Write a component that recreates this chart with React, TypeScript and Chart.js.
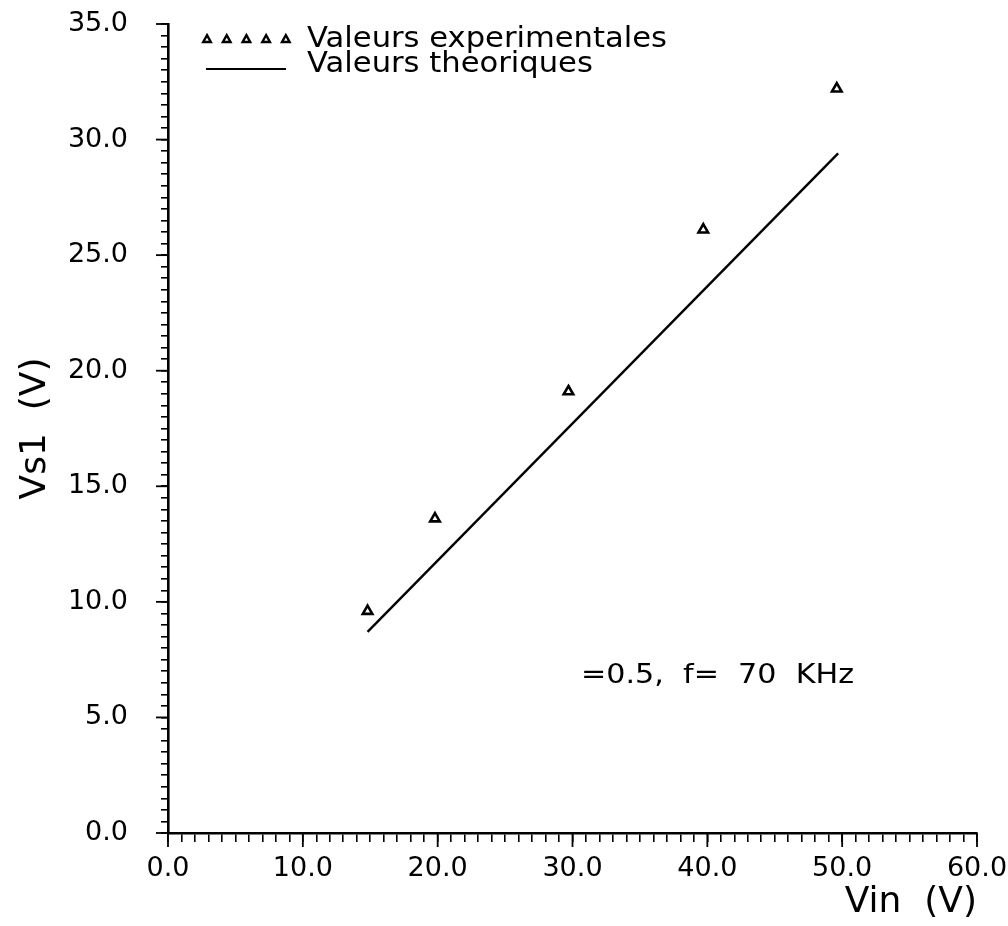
import React, { useEffect, useRef } from "react";
import { Chart, registerables } from "chart.js";

Chart.register(...registerables);

const expX = [14.8, 19.8, 29.7, 39.7, 49.6];
const expY = [9.6, 13.6, 19.1, 26.1, 32.2];
const theoX = [14.8, 49.7];
const theoY = [8.7, 29.4];
const xMajorStep = 10;
const yMajorStep = 5;
const legendLabels = ["Valeurs experimentales", "Valeurs theoriques"];
const annotationText = "=0.5,  f=  70  KHz";
const xTitle = "Vin  (V)";
const yTitle = "Vs1  (V)";

const FONT = "'DejaVu Sans', sans-serif";

function stretchedText(ctx: any, text: string, x: number, y: number, sx: number) {
  ctx.save();
  ctx.translate(x, y);
  ctx.scale(sx, 1);
  ctx.fillText(text, 0, 0);
  ctx.restore();
}

const decorPlugin = {
  id: "decor",
  afterDraw(chart: any) {
    const ctx = chart.ctx;
    const xs = chart.scales.x;
    const ys = chart.scales.y;
    ctx.save();
    ctx.strokeStyle = "#000";
    ctx.lineWidth = 1.8;
    // major tick extensions
    for (let v = xs.min; v <= xs.max + 1e-9; v += xMajorStep) {
      const px = xs.getPixelForValue(v);
      ctx.beginPath();
      ctx.moveTo(px, ys.bottom);
      ctx.lineTo(px, ys.bottom + 14);
      ctx.stroke();
    }
    for (let v = ys.min; v <= ys.max + 1e-9; v += yMajorStep) {
      const py = ys.getPixelForValue(v);
      ctx.beginPath();
      ctx.moveTo(xs.left, py);
      ctx.lineTo(xs.left - 12, py);
      ctx.stroke();
    }
    // legend
    const lx0 = 207;
    const lstep = 19.7;
    ctx.lineWidth = 2.4;
    for (let i = 0; i < 5; i++) {
      const cx = lx0 + i * lstep;
      const cy = 39;
      const r = 3.8;
      ctx.beginPath();
      ctx.moveTo(cx, cy - r);
      ctx.lineTo(cx + r, cy + r * 0.8);
      ctx.lineTo(cx - r, cy + r * 0.8);
      ctx.closePath();
      ctx.stroke();
    }
    ctx.lineWidth = 2.2;
    ctx.beginPath();
    ctx.moveTo(206, 69);
    ctx.lineTo(286, 69);
    ctx.stroke();
    ctx.fillStyle = "#000";
    ctx.font = `28px ${FONT}`;
    ctx.textBaseline = "alphabetic";
    ctx.textAlign = "left";
    const sxL = 360 / ctx.measureText(legendLabels[0]).width;
    stretchedText(ctx, legendLabels[0], 307, 47, sxL);
    stretchedText(ctx, legendLabels[1], 307, 72, sxL);
    // annotation
    ctx.font = `26px ${FONT}`;
    const sxA = 273 / ctx.measureText(annotationText).width;
    stretchedText(ctx, annotationText, 581, 683, sxA);
    ctx.restore();
  },
};

export default function App() {
  const ref = useRef<HTMLCanvasElement>(null);
  useEffect(() => {
    if (!ref.current) return;
    const chart = new Chart(ref.current, {
      type: "scatter",
      data: {
        datasets: [
          {
            label: legendLabels[0],
            data: expX.map((x, i) => ({ x, y: expY[i] })),
            pointStyle: "triangle",
            pointRadius: 5.5,
            borderColor: "#000",
            backgroundColor: "#fff",
            borderWidth: 2.6,
            showLine: false,
          },
          {
            label: legendLabels[1],
            data: theoX.map((x, i) => ({ x, y: theoY[i] })),
            showLine: true,
            pointRadius: 0,
            borderColor: "#000",
            borderWidth: 2.4,
          },
        ],
      },
      plugins: [decorPlugin],
      options: {
        responsive: false,
        animation: false,
        layout: { padding: { top: 24, right: 31, left: 0, bottom: 0 } },
        plugins: { legend: { display: false }, tooltip: { enabled: false } },
        scales: {
          x: {
            type: "linear",
            min: 0,
            max: 60,
            afterFit: (s: any) => {
              s.height = 93;
              s.paddingLeft = 0;
              s.paddingRight = 0;
            },
            border: { display: true, color: "#000", width: 2.6 },
            grid: {
              display: true,
              drawOnChartArea: false,
              drawTicks: true,
              tickLength: 9,
              color: "#000",
              lineWidth: 1.6,
            },
            ticks: {
              stepSize: 1,
              autoSkip: false,
              maxRotation: 0,
              padding: 11,
              color: "#000",
              font: { family: FONT, size: 27 },
              callback: (v: any) => (Math.abs(v % xMajorStep) < 1e-9 ? Number(v).toFixed(1) : ""),
            },
            title: {
              display: true,
              text: xTitle,
              align: "end",
              color: "#000",
              font: { family: FONT, size: 36 },
              padding: { top: 0, bottom: 2 },
            },
          },
          y: {
            type: "linear",
            min: 0,
            max: 35,
            afterFit: (s: any) => {
              s.width = 168;
              s.paddingTop = 0;
              s.paddingBottom = 0;
            },
            border: { display: true, color: "#000", width: 2.6 },
            grid: {
              display: true,
              drawOnChartArea: false,
              drawTicks: true,
              tickLength: 7,
              color: "#000",
              lineWidth: 1.6,
            },
            ticks: {
              stepSize: 0.5,
              autoSkip: false,
              padding: 33,
              color: "#000",
              font: { family: FONT, size: 27 },
              callback: (v: any) => (Math.abs(v % yMajorStep) < 1e-9 ? Number(v).toFixed(1) : ""),
            },
            title: {
              display: true,
              text: yTitle,
              color: "#000",
              font: { family: FONT, size: 36 },
              padding: { top: 14, bottom: 0 },
            },
          },
        },
      },
    });
    return () => chart.destroy();
  }, []);
  return (
    <div style={{ position: "absolute", left: 0, top: 0, width: 1008, height: 926, background: "#fff" }}>
      <canvas ref={ref} width={1008} height={926} />
    </div>
  );
}
